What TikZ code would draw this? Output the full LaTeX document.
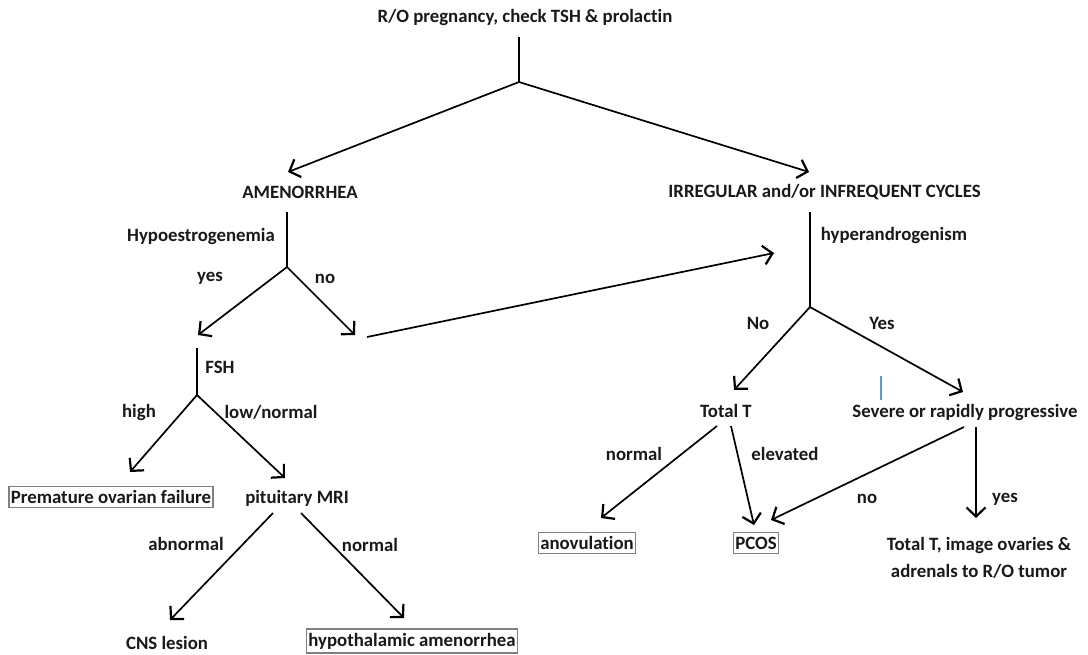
\documentclass[tikz,border=0pt]{standalone}
\usepackage{fontspec}
\setmainfont{Carlito}[Ligatures={NoCommon}]
\usetikzlibrary{arrows.meta}
\begin{document}
\begin{tikzpicture}[x=1pt,y=-1pt,
  every node/.style={font=\fontsize{18.8}{27}\selectfont\bfseries, text=black!90, inner sep=0pt},
  lbl/.style={},
  boxed/.style={draw=black!50, line width=1.3pt, inner xsep=2pt, inner ysep=4pt},
  conn/.style={line width=1.7pt},
  arr/.style={conn, -{Straight Barb[length=9pt,width=19pt,line width=2.2pt]}}]
\useasboundingbox[fill=white] (0,0) rectangle (1088,654);

% nodes
\node (title) at (525,17) {R/O pregnancy, check TSH \& prolactin};
\node (amen) at (300,192) {AMENORRHEA};
\node (irr) at (824.5,192) {IRREGULAR and/or INFREQUENT CYCLES};
\node[lbl] (hypo) at (201,236) {Hypoestrogenemia};
\node[lbl] (hyper) at (894,235) {hyperandrogenism};
\node[lbl] (yes1) at (210,278) {yes};
\node[lbl] (no1) at (325,279) {no};
\node[lbl] (No2) at (758,323) {No};
\node[lbl] (Yes2) at (882,323) {Yes};
\node[lbl] (fshl) at (220,367) {FSH};
\node[lbl] (high) at (139,412) {high};
\node[lbl] (lown) at (271,412) {low/normal};
\node[boxed] (pof) at (111,497) {Premature ovarian failure};
\node (pit) at (297,498) {pituitary MRI};
\node[lbl] (abn) at (186,544) {abnormal};
\node[lbl] (nor1) at (370,545) {normal};
\node (cns) at (167,643) {CNS lesion};
\node[boxed] (hyam) at (412,641) {hypothalamic amenorrhea};
\node (tott) at (726,411) {Total T};
\node (sev) at (965,412) {Severe or rapidly progressive};
\node[lbl] (nor2) at (634,454) {normal};
\node[lbl] (elev) at (785,454) {elevated};
\node[lbl] (no3) at (867,499) {no};
\node[lbl] (yes3) at (1005,499) {yes};
\node[boxed] (anov) at (587,543) {anovulation};
\node[boxed] (pcos) at (756,543) {PCOS};
\node[align=center] (tumor) at (979,558) {Total T, image ovaries \&\\adrenals to R/O tumor};

% coordinates
\coordinate (t1) at (519,37);
\coordinate (b1) at (519,82);
\coordinate (a1) at (288,172);
\coordinate (i1) at (809,172);
\coordinate (t2) at (287,212);
\coordinate (b2) at (287,267);
\coordinate (y1) at (198,335);
\coordinate (n1) at (355,335);
\coordinate (s1) at (367,337);
\coordinate (e1) at (774,253);
\coordinate (t3) at (810,212);
\coordinate (b3) at (810,307);
\coordinate (n2) at (734,390);
\coordinate (y2) at (963,392);
\coordinate (t4) at (197,348);
\coordinate (b4) at (197,395);
\coordinate (h1) at (130,472);
\coordinate (l1) at (285,478);
\coordinate (p1) at (273,513);
\coordinate (p2) at (170,620);
\coordinate (p3) at (301,513);
\coordinate (p4) at (404,618);
\coordinate (q1) at (717,426);
\coordinate (q2) at (601,518);
\coordinate (q3) at (731,426);
\coordinate (q4) at (754,525);
\coordinate (r1) at (964,427);
\coordinate (r2) at (771,520);
\coordinate (r3) at (976,427);
\coordinate (r4) at (976,518);
\coordinate (bl1) at (881,376);
\coordinate (bl2) at (881,400);

% connectors
\draw[conn] (t1) -- (b1);
\draw[arr] (b1) -- (a1);
\draw[arr] (b1) -- (i1);
\draw[conn] (t2) -- (b2);
\draw[arr] (b2) -- (y1);
\draw[arr] (b2) -- (n1);
\draw[arr] (s1) -- (e1);
\draw[conn] (t3) -- (b3);
\draw[arr] (b3) -- (n2);
\draw[arr] (b3) -- (y2);
\draw[conn] (t4) -- (b4);
\draw[arr] (b4) -- (h1);
\draw[arr] (b4) -- (l1);
\draw[arr] (p1) -- (p2);
\draw[arr] (p3) -- (p4);
\draw[arr] (q1) -- (q2);
\draw[arr] (q3) -- (q4);
\draw[arr] (r1) -- (r2);
\draw[arr] (r3) -- (r4);
\draw[line width=1.2pt, color={rgb,255:red,91;green,155;blue,213}] (bl1) -- (bl2);
\end{tikzpicture}
\end{document}
